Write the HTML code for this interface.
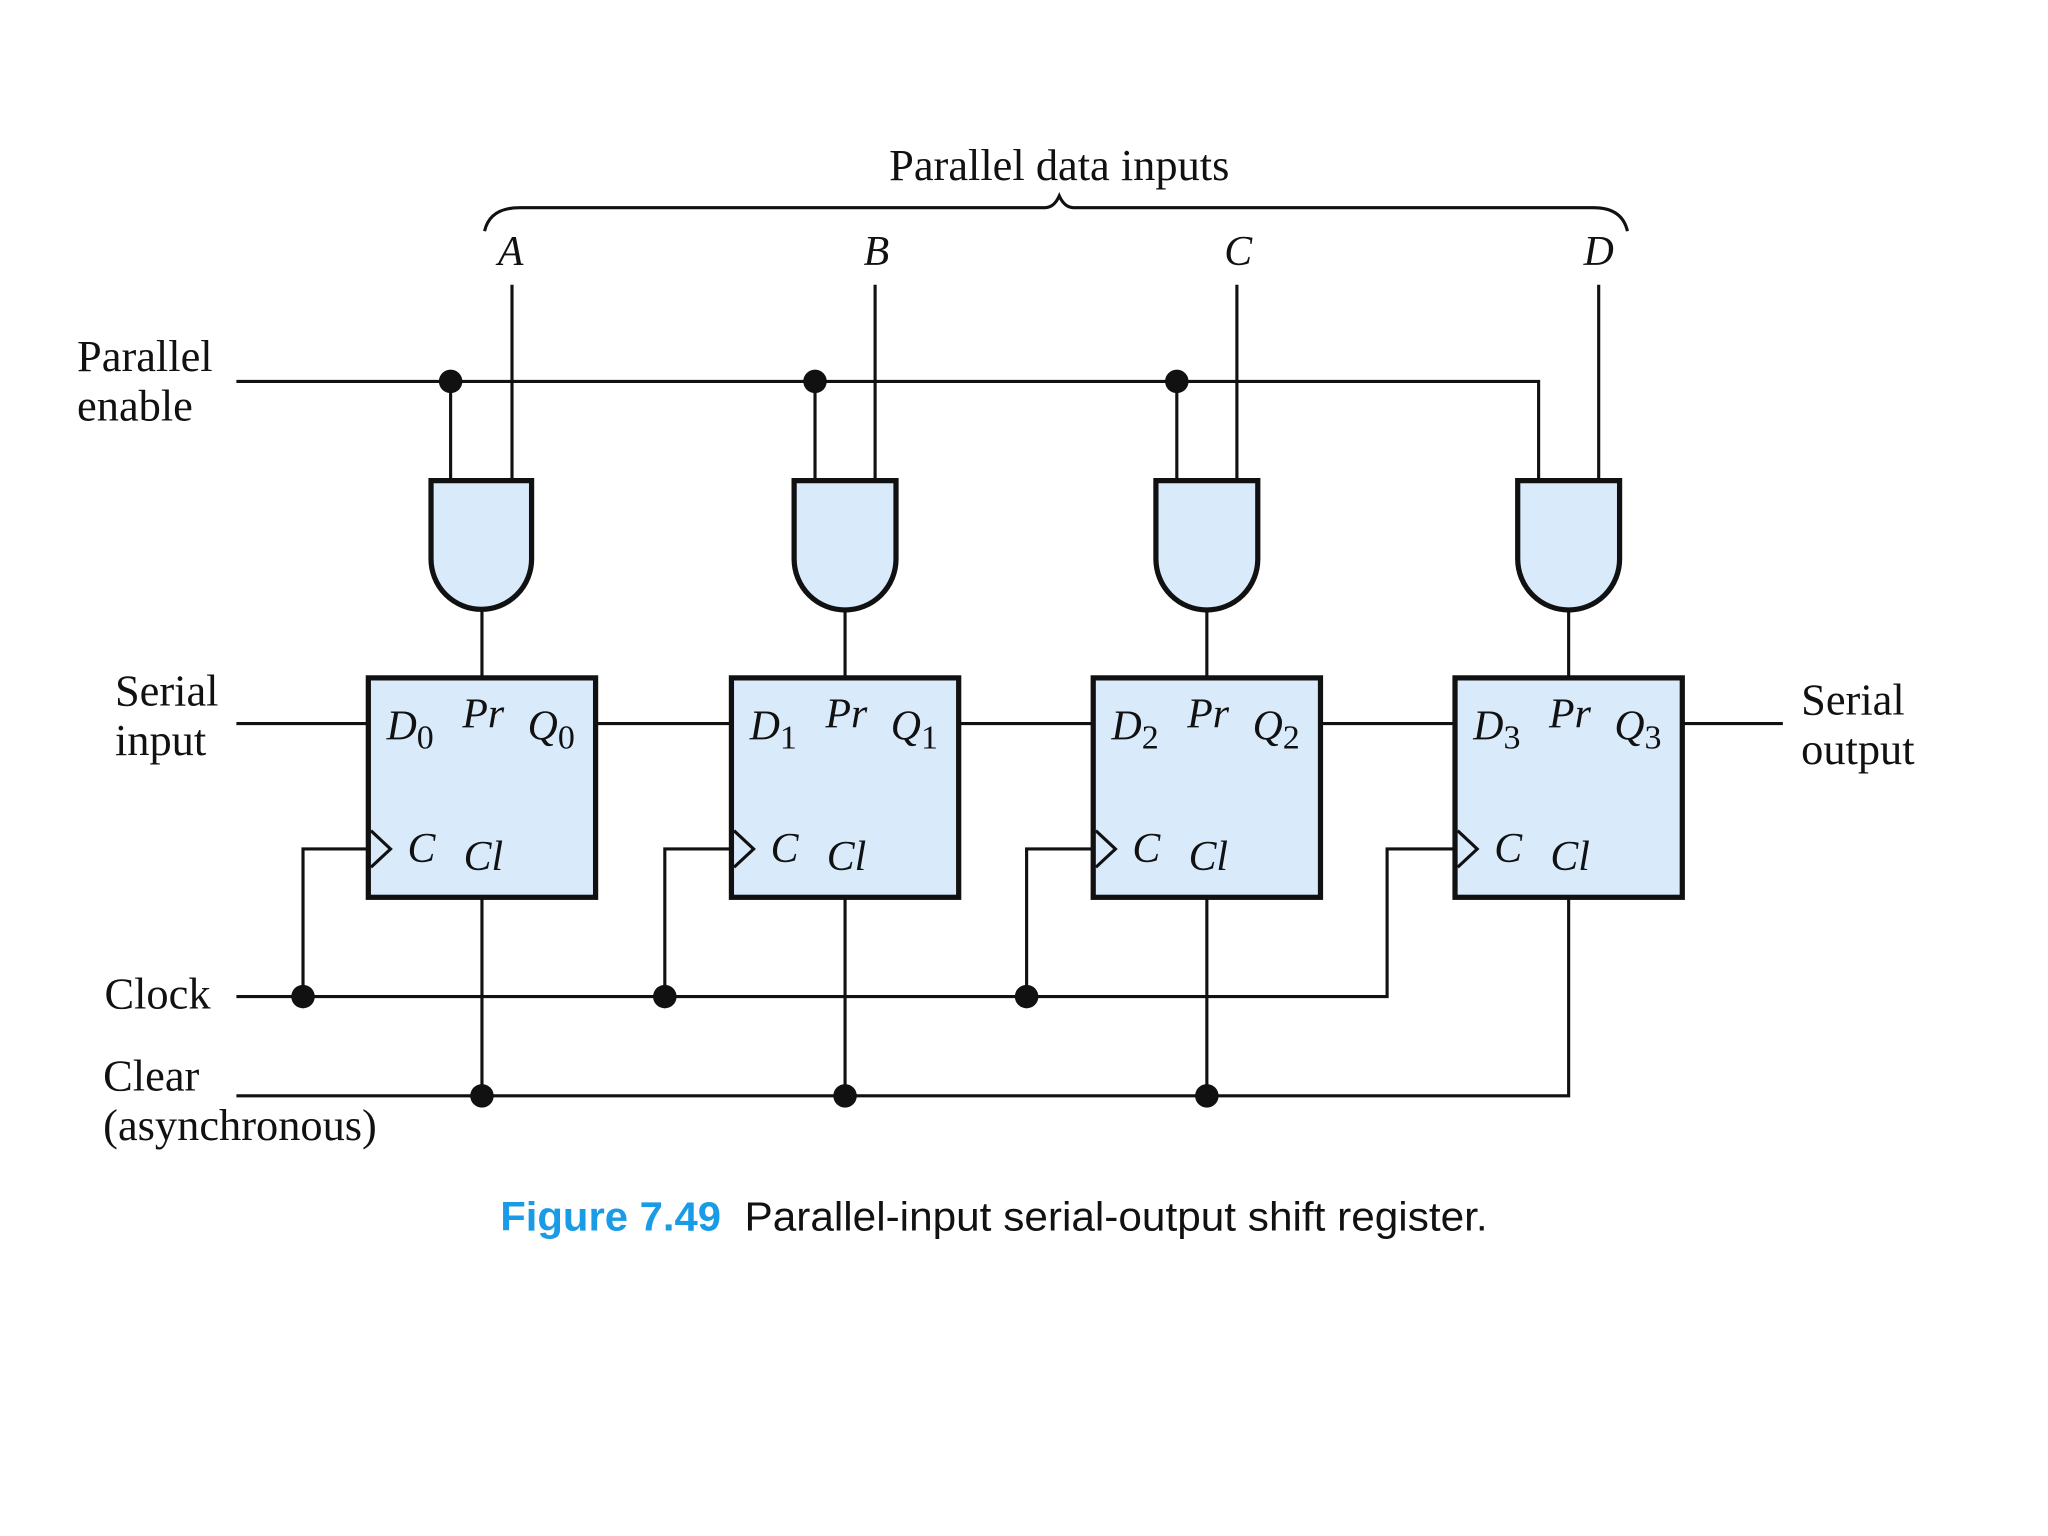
<!DOCTYPE html>
<html><head><meta charset="utf-8"><style>
html,body{margin:0;padding:0;background:#fff;width:2048px;height:1536px;overflow:hidden}
svg{display:block}
text{font-family:"Liberation Serif",serif;fill:#111}
.i{font-style:italic}
.w{stroke:#111;stroke-width:2.4;fill:none}
.b{stroke:#111;stroke-width:4;fill:#d9eafb}
</style></head><body>
<svg width="2048" height="1536" viewBox="0 0 1568 1176" xmlns="http://www.w3.org/2000/svg">
<text x="811" y="138" font-size="34" text-anchor="middle">Parallel data inputs</text>
<path class="w" d="M371,177 Q375,159 398,159 L800,159 Q807,159 811,150 Q815,159 822,159 L1220,159 Q1242,159 1246,177"/>
<g font-size="32" class="i" text-anchor="middle">
<text x="391" y="203">A</text><text x="671" y="203">B</text><text x="948" y="203">C</text><text x="1224" y="203">D</text>
</g>
<g font-size="34">
<text x="59" y="284">Parallel</text><text x="59" y="322">enable</text>
<text x="88" y="540">Serial</text><text x="88" y="578">input</text>
<text x="80" y="772">Clock</text>
<text x="79" y="835">Clear</text><text x="79" y="873">(asynchronous)</text>
<text x="1379" y="547">Serial</text><text x="1379" y="585">output</text>
</g>
<g class="w">
<path d="M181,292 H1178 V368"/>
<path d="M345,292 V368 M624,292 V368 M901,292 V368"/>
<path d="M392,218 V368 M670,218 V368 M947,218 V368 M1224,218 V368"/>
<path d="M369,467 V519 M647,467 V519 M924,467 V519 M1201,467 V519"/>
<path d="M181,554 H282 M456,554 H560 M734,554 H837 M1011,554 H1114 M1288,554 H1365"/>
<path d="M181,763 H1062 V650 H1114"/>
<path d="M232,763 V650 H282 M509,763 V650 H560 M786,763 V650 H837"/>
<path d="M181,839 H1201 V687"/>
<path d="M369,687 V839 M647,687 V839 M924,687 V839"/>
</g>
<g fill="#111">
<circle cx="345" cy="292" r="9"/><circle cx="624" cy="292" r="9"/><circle cx="901" cy="292" r="9"/>
<circle cx="232" cy="763" r="9"/><circle cx="509" cy="763" r="9"/><circle cx="786" cy="763" r="9"/>
<circle cx="369" cy="839" r="9"/><circle cx="647" cy="839" r="9"/><circle cx="924" cy="839" r="9"/>
</g>
<g class="b">
<path d="M330,368 H407 V428 A38.5,38.5 0 0 1 330,428 Z"/>
<path d="M608,368 H686 V428 A39,39 0 0 1 608,428 Z"/>
<path d="M885,368 H963 V428 A39,39 0 0 1 885,428 Z"/>
<path d="M1162,368 H1240 V428 A39,39 0 0 1 1162,428 Z"/>
</g>
<g>
<rect class="b" x="282" y="519" width="174" height="168"/>
<rect class="b" x="560" y="519" width="174" height="168"/>
<rect class="b" x="837" y="519" width="174" height="168"/>
<rect class="b" x="1114" y="519" width="174" height="168"/>
</g>
<g class="w">
<path d="M284,636 L299,650 L284,664"/><path d="M562,636 L577,650 L562,664"/>
<path d="M839,636 L854,650 L839,664"/><path d="M1116,636 L1131,650 L1116,664"/>
</g>
<g font-size="32" class="i">
<text x="296" y="566">D<tspan font-style="normal" font-size="26" dy="7">0</tspan></text>
<text x="354" y="557">Pr</text>
<text x="404" y="566">Q<tspan font-style="normal" font-size="26" dy="7">0</tspan></text>
<text x="312" y="660">C</text><text x="355" y="666">Cl</text>

<text x="574" y="566">D<tspan font-style="normal" font-size="26" dy="7">1</tspan></text>
<text x="632" y="557">Pr</text>
<text x="682" y="566">Q<tspan font-style="normal" font-size="26" dy="7">1</tspan></text>
<text x="590" y="660">C</text><text x="633" y="666">Cl</text>

<text x="851" y="566">D<tspan font-style="normal" font-size="26" dy="7">2</tspan></text>
<text x="909" y="557">Pr</text>
<text x="959" y="566">Q<tspan font-style="normal" font-size="26" dy="7">2</tspan></text>
<text x="867" y="660">C</text><text x="910" y="666">Cl</text>

<text x="1128" y="566">D<tspan font-style="normal" font-size="26" dy="7">3</tspan></text>
<text x="1186" y="557">Pr</text>
<text x="1236" y="566">Q<tspan font-style="normal" font-size="26" dy="7">3</tspan></text>
<text x="1144" y="660">C</text><text x="1187" y="666">Cl</text>
</g>
<text x="383" y="942" font-size="31" font-weight="bold" style="font-family:'Liberation Sans',sans-serif;fill:#1a9be6" textLength="169" lengthAdjust="spacingAndGlyphs">Figure 7.49</text>
<text x="570" y="942" font-size="31" style="font-family:'Liberation Sans',sans-serif;fill:#111" textLength="569" lengthAdjust="spacingAndGlyphs">Parallel-input serial-output shift register.</text>
</svg>
</body></html>
